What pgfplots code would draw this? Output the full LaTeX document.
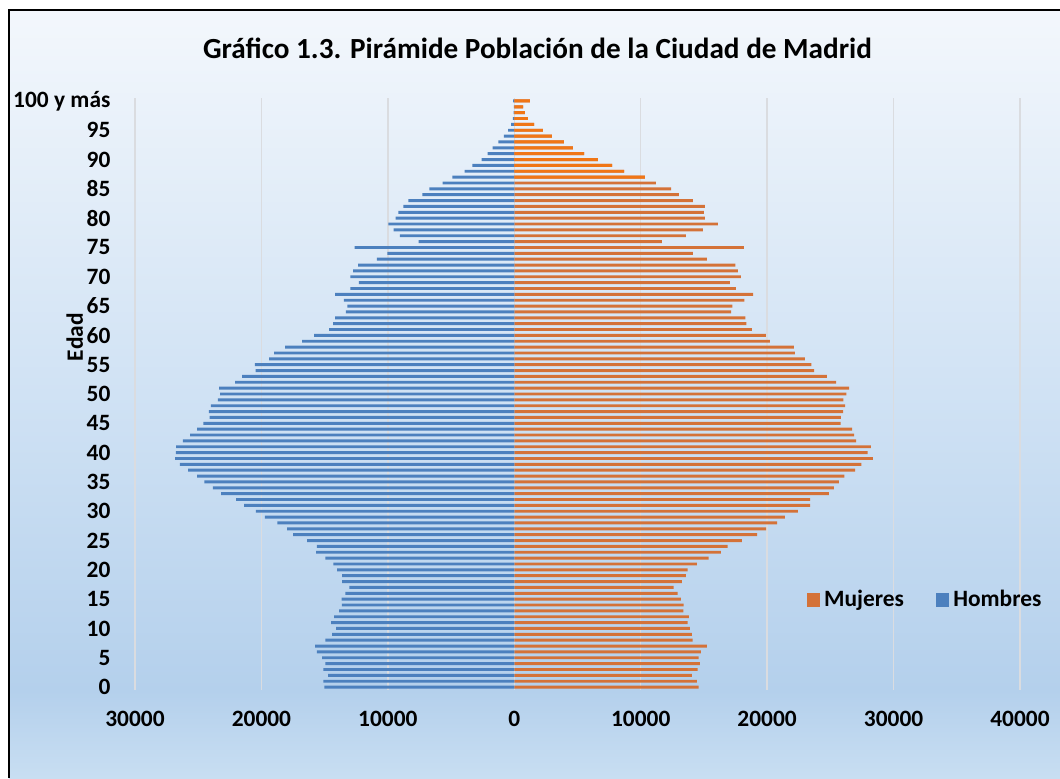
\documentclass[border=0pt]{standalone}
\usepackage{fontspec}
\setmainfont{Carlito}
\usepackage{pgfplots}
\usepackage{pgfplotstable}
\pgfplotsset{compat=1.18}

\definecolor{bgtop}{RGB}{243,247,252}
\definecolor{bgmid}{RGB}{208,226,244}
\definecolor{bgdark}{RGB}{180,208,236}
\definecolor{bgbot}{RGB}{200,222,242}
\definecolor{gridgray}{RGB}{218,220,224}
\definecolor{menblue}{RGB}{76,128,190}
\definecolor{womorange}{RGB}{212,114,56}
\definecolor{womorangeb}{RGB}{240,118,22}

\pgfdeclareverticalshading{chartbg}{100bp}{color(0bp)=(bgbot); color(25bp)=(bgbot);
  color(30.7bp)=(bgdark); color(50bp)=(bgmid); color(75bp)=(bgtop); color(100bp)=(bgtop)}

% age, hombres, mujeres
\pgfplotstableread{
age men women
0 15030 14590
1 15110 14450
2 14730 14050
3 15110 14500
4 14950 14680
5 15190 14590
6 15620 14760
7 15750 15240
8 14950 14110
9 14410 14050
10 14090 13880
11 14490 13710
12 14250 13800
13 13850 13370
14 13640 13400
15 13660 13180
16 13370 12920
17 13050 12610
18 13610 13260
19 13610 13570
20 14010 13710
21 14310 14450
22 14950 15380
23 15670 16340
24 15620 16880
25 16390 18010
26 17490 19200
27 17970 19910
28 18740 20790
29 19730 21410
30 20430 22430
31 21370 23390
32 22010 23390
33 23180 24890
34 23850 25280
35 24520 25680
36 25080 26100
37 25800 26950
38 26450 27460
39 26820 28370
40 26770 27940
41 26740 28200
42 26210 27030
43 25640 26870
44 25080 26720
45 24600 25820
46 24090 25840
47 24150 26000
48 23990 26160
49 23450 26030
50 23260 26270
51 23340 26480
52 22090 25450
53 21530 24730
54 20460 23710
55 20510 23500
56 19390 22990
57 18990 22200
58 18130 22120
59 16790 20220
60 15830 19900
61 14650 18800
62 14330 18350
63 14170 18270
64 13320 17160
65 13210 17240
66 13480 18190
67 14170 18900
68 12970 17530
69 12300 17060
70 12970 17930
71 12750 17690
72 12350 17480
73 10860 15230
74 10030 14120
75 12620 18160
76 7570 11670
77 9040 13570
78 9550 14910
79 9950 16100
80 9390 15070
81 9170 14990
82 8770 15070
83 8370 14120
84 7270 13010
85 6710 12410
86 5670 11190
87 4890 10320
88 3930 8680
89 3320 7730
90 2590 6620
91 2110 5520
92 1710 4640
93 1260 3930
94 830 2980
95 480 2270
96 250 1560
97 110 1080
98 60 840
99 40 690
100 90 1240
}\pyramid

\begin{document}
\begin{tikzpicture}
% page and chart area (1 px of the reference = 0.5pt)
\useasboundingbox (-67.5pt,-44pt) rectangle (462.5pt,345pt);
\shade[shading=chartbg] (-63pt,-44pt) rectangle (462.5pt,340pt);
\draw[black, line width=0.8pt] (-63pt,-44pt) -- (-63pt,340pt) -- (462.5pt,340pt);

\node[anchor=base, font=\fontsize{14.6}{17}\selectfont\bfseries] at (201.25pt,315.5pt)
  {Gráfico 1.3. Pirámide Población de la Ciudad de Madrid};

\begin{axis}[
    at={(0pt,0pt)}, anchor=south west,
    scale only axis, width=442.5pt, height=296pt,
    xbar, bar width=0.5, bar shift=0pt,
    xmin=-30000, xmax=40000, ymin=-0.5, ymax=100.5,
    scaled x ticks=false,
    xtick={-30000,-20000,-10000,0,10000,20000,30000,40000},
    xticklabels={30000,20000,10000,0,10000,20000,30000,40000},
    ytick={0,5,...,100},
    yticklabels={0,5,10,15,20,25,30,35,40,45,50,55,60,65,70,75,80,85,90,95,100 y más},
    xmajorgrids, grid style={draw=gridgray, line width=0.7pt},
    axis line style={draw=none}, tick style={draw=none},
    /pgf/number format/assume math mode=true,
    ticklabel style={font=\fontsize{11.7}{14}\selectfont\bfseries},
    xticklabel style={yshift=-7pt},
    yticklabel style={xshift=-4.5pt},
    ylabel={Edad},
    ylabel style={at={(axis description cs:-0.068,0.596)}, anchor=center,
                  font=\fontsize{11.7}{14}\selectfont\bfseries},
    legend columns=2,
    legend style={draw=none, fill=none, at={(axis description cs:0.894,0.152)}, anchor=center,
                  font=\fontsize{11.7}{14}\selectfont\bfseries,
                  /tikz/every even column/.append style={column sep=14pt}},
    legend image code/.code={\fill[#1] (0pt,-3.3pt) rectangle (6.6pt,3.3pt);},
]
  \addplot[fill=womorange, draw=none] table[x=women, y=age] {\pyramid};
  \addlegendentry{Mujeres}
  \addplot[fill=menblue, draw=none] table[x expr=-\thisrow{men}, y=age] {\pyramid};
  \addlegendentry{Hombres}
  \addplot[fill=womorangeb, draw=none, forget plot, restrict y to domain=86.5:100.5]
    table[x=women, y=age] {\pyramid};
\end{axis}
\end{tikzpicture}
\end{document}
